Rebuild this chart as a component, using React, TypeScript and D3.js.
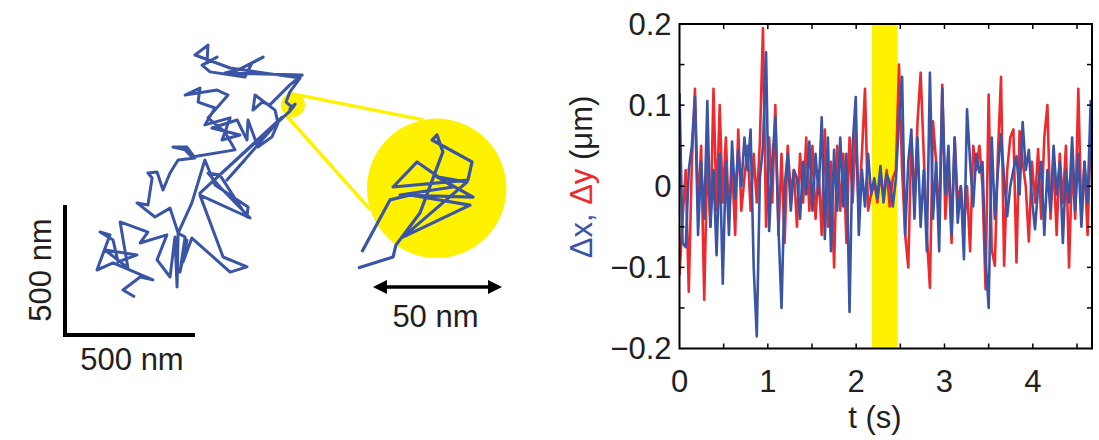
import React from "react";
import * as d3 from "d3";

// frame interval of the tracking, seconds
const DT = 0.035;

// displacement per frame, nm (blue = x, red = y)
const dxNm = [
  115, -70, -75, 20, 50, 110, -60, 30, -40, 105,
  -50, 20, -85, 40, -120, 30, -60, 55, -15, 45,
  0, 60, 20, 70, -100, -185, 10, 50, 165, -55,
  30, 85, -50, -150, 0, 40, -30, 20, 10, -40,
  30, -10, 55, -30, 40, -10, 85, -65, 60, -80,
  45, -30, 60, -25, 40, -155, 50, 110, -60, 20,
  -25, 40, -10, 10, -15, 25, -20, 15, 5, -25,
  10, 80, 135, -60, 30, 70, -40, 60, -50, 20,
  -80, 140, -40, 30, -80, 120, -10, 50, -60, 60,
  -45, 0, -90, 95, 30, -25, 40, 17, 30, -90,
  -150, 60, -40, 20, 64, 10, -37, 0, 20, 37,
  -10, 79, 20, 45, -16, -53, 0, 30, -60, 20,
  -30, 50, -10, 30, -70, 20, -20, 60, -30, 40,
  -50, 30, -20, 105, -110,
];
const dyNm = [
  -110, -40, 20, -130, 30, 120, -30, 50, -140, 40,
  -50, 120, -30, 100, -20, 60, -40, 30, -60, 70,
  -30, 10, 50, -30, 40, -20, 55, 195, -50, 60,
  -20, 100, -60, 40, -70, 50, -10, 20, -50, 40,
  -20, 60, -30, 50, -40, 20, -60, 70, -50, 30,
  -100, 50, -30, 40, -70, 60, -20, 70, -30, 40,
  120, -30, -10, 5, -20, 15, -15, 20, -25, 10,
  20, 150, 20, -60, -100, 60, -20, 80, 140, 40,
  -60, -125, 80, 30, -50, 125, -40, 30, -70, 60,
  -20, 0, -50, 0, -80, 50, 20, 50, 0, -127,
  113, -78, -98, 40, 135, -98, 20, 60, 70, -94,
  68, 30, 0, -68, 30, -20, 46, -40, 60, 100,
  -40, 30, -60, 40, -20, 50, -100, 30, -40, 120,
  -40, 30, -60, 70, -30,
];

// highlighted stretch (s)
const bandStart = 2.18;
const bandEnd = 2.47;

const xTicks = [0, 1, 2, 3, 4];
const yTicks = [-0.2, -0.1, 0, 0.1, 0.2];

// whole trajectory, nm
const trajX = [
  269, 223, 289, 338, 185, 123, 173, 135, 185, 204, 277, 154, 242, 212, 319, 289, 392, 354, 404, 423,
  431, 435, 462, 442, 469, 454, 488, 635, 700, 608, 519, 712, 596, 550, 596, 700, 704, 577, 538, 488,
  435, 404, 346, 277, 319, 335, 319, 354, 377, 404, 435, 500, 469, 415, 462, 488, 654, 615, 550, 627,
  585, 462, 519, 512, 577, 538, 635, 604, 673, 565, 662, 700, 704, 742, 796, 819, 808, 731, 723, 758,
  788, 865, 912, 615, 665, 762, 719, 692, 558, 527, 585, 546, 550, 500, 635, 904, 865, 850, 873, 885,
  865, 881, 862, 519, 835, 623, 692,
];
const trajY = [
  146, 173, 223, 212, 277, 250, 385, 396, 365, 281, 308, 327, 258, 435, 396, 354, 385, 289, 223, 377,
  185, 392, 377, 242, 365, 281, 373, 242, 262, 300, 538, 450, 569, 623, 615, 454, 492, 577, 673, 508,
  392, 488, 454, 508, 500, 604, 623, 627, 558, 623, 673, 681, 723, 723, 712, 685, 712, 781, 835, 923,
  942, 923, 950, 896, 873, 808, 835, 750, 769, 796, 827, 750, 827, 723, 762, 815, 865, 923, 865, 896,
  885, 962, 1000, 1008, 1019, 1069, 1046, 992, 1012, 1038, 1069, 1046, 1115, 1077, 1027, 988, 935, 896, 877, 888,
  869, 881, 858, 546, 838, 596, 673,
];

// magnified stretch, nm from the centre of the zoom circle
const zoomX = [
  -30.5, -16.9, -15.8, -6.5, 2.4, 0.1, -1.8, 13.7, 12.1, -16.9, -7.6, 6.3, -14.2, 14.1, 0.1, 11.7,
  -13.1, 12.9, -10.3, -18.1, -29.0,
];
const zoomY = [
  -30.9, -26.6, -22.0, -9.6, 14.1, 20.7, 18.7, 10.2, 3.2, 0.5, 10.2, 0.5, -2.6, -3.4, 4.4, 2.4,
  -18.9, -6.5, -2.6, -4.5, -24.7,
];

const W = 1099;
const H = 440;
const FONT = "'Liberation Sans', Arial, Helvetica, sans-serif";
const BLUE = "#3a55a5";
const RED = "#ee2a2e";
const YELLOW = "#fff200";
const INK = "#231f20";
const FS = 31;

export default function App() {
  // right panel
  const x = d3.scaleLinear().domain([0, 4.67]).range([679.5, 1092]);
  const y = d3.scaleLinear().domain([-0.2, 0.2]).range([348.5, 24]);
  const [x0, x1] = x.range();
  const [yb, yt] = y.range();

  const series = (vals: number[]) =>
    d3.line<number>()
      .x((_, i) => x(i * DT))
      .y((d) => y(d / 1000))(vals) || "";

  const minorX = d3.range(0.5, 4.67, 0.5);
  const minorY = d3.range(-0.15, 0.2, 0.05);
  const tl = 5;
  const fmtY = (d: number) => (Math.abs(d) < 1e-9 ? "0" : d3.format(".1f")(d));

  // left panel: trajectory at 0.26 px/nm
  const sx = d3.scaleLinear().domain([0, 500]).range([65, 195]);
  const sy = d3.scaleLinear().domain([0, 500]).range([335, 205]);
  const traj = d3.line<number>().x((d) => sx(d)).y((_, i) => sy(trajY[i]))(trajX) || "";

  // inset: 10x magnification
  const cx = 436.7;
  const cy = 188.3;
  const ix = d3.scaleLinear().domain([-27, 27]).range([cx - 69.7, cx + 69.7]);
  const iy = d3.scaleLinear().domain([-27, 27]).range([cy + 69.7, cy - 69.7]);
  const R = ix(27) - cx;
  const inset = d3.line<number>().x((d) => ix(d)).y((_, i) => iy(zoomY[i]))(zoomX) || "";

  // spot on the trajectory that is magnified
  const spot = { x: 293, y: 105, r: 12 };
  const onCircle = (c: { x: number; y: number; r: number }, deg: number) => [
    c.x + c.r * Math.cos((deg * Math.PI) / 180),
    c.y + c.r * Math.sin((deg * Math.PI) / 180),
  ];
  const big = { x: cx, y: cy, r: R };
  const connTop = [onCircle(spot, -104), onCircle(big, -101)];
  const connBot = [onCircle(spot, 133), onCircle(big, 162)];

  const arrowA = ix(-24.7);
  const arrowB = ix(25.3);
  const arrowY = 287;
  const ah = 14;

  return (
    <svg
      width={W}
      height={H}
      style={{ position: "absolute", left: 0, top: 0, background: "#fff" }}
      fontFamily={FONT}
    >
      {/* left: trajectory with magnified spot */}
      <line x1={connTop[0][0]} y1={connTop[0][1]} x2={connTop[1][0]} y2={connTop[1][1]} stroke={YELLOW} strokeWidth={3.5} />
      <line x1={connBot[0][0]} y1={connBot[0][1]} x2={connBot[1][0]} y2={connBot[1][1]} stroke={YELLOW} strokeWidth={3.5} />
      <circle cx={spot.x} cy={spot.y} r={spot.r} fill={YELLOW} />
      <circle cx={cx} cy={cy} r={R} fill={YELLOW} />
      <path d={traj} fill="none" stroke={BLUE} strokeWidth={3} strokeLinejoin="round" />
      <path d={inset} fill="none" stroke={BLUE} strokeWidth={3.2} strokeLinejoin="round" />

      {/* scale bars */}
      <path
        d={`M${sx(0)},${sy(500)}V${sy(0)}H${sx(500)}`}
        fill="none"
        stroke="#000"
        strokeWidth={4}
      />
      <text x={sx(250) + 2} y={370} fontSize={FS} fill={INK} textAnchor="middle">500 nm</text>
      <text transform={`translate(51,${sy(250)}) rotate(-90)`} fontSize={FS} fill={INK} textAnchor="middle">500 nm</text>

      <line x1={arrowA + ah - 2} x2={arrowB - ah + 2} y1={arrowY} y2={arrowY} stroke="#000" strokeWidth={3.5} />
      <path d={`M${arrowA},${arrowY}l${ah},-7v14z`} fill="#000" />
      <path d={`M${arrowB},${arrowY}l${-ah},-7v14z`} fill="#000" />
      <text x={(arrowA + arrowB) / 2 - 2} y={327} fontSize={FS} fill={INK} textAnchor="middle">50 nm</text>

      {/* right: displacements */}
      <defs>
        <clipPath id="plot">
          <rect x={x0} y={yt} width={x1 - x0} height={yb - yt} />
        </clipPath>
      </defs>
      <rect x={x(bandStart)} y={yt} width={x(bandEnd) - x(bandStart)} height={yb - yt} fill={YELLOW} />
      <g clipPath="url(#plot)">
        <path d={series(dyNm)} fill="none" stroke={RED} strokeWidth={2.6} strokeLinejoin="round" />
        <path d={series(dxNm)} fill="none" stroke={BLUE} strokeWidth={2.6} strokeLinejoin="round" />
      </g>

      <g stroke="#000" strokeWidth={1.5}>
        {minorX.map((t) => (
          <g key={"tx" + t}>
            <line x1={x(t)} x2={x(t)} y1={yb} y2={yb - tl} />
            <line x1={x(t)} x2={x(t)} y1={yt} y2={yt + tl} />
          </g>
        ))}
        {minorY.map((v) => (
          <g key={"ty" + v}>
            <line x1={x0} x2={x0 + tl} y1={y(v)} y2={y(v)} />
            <line x1={x1} x2={x1 - tl} y1={y(v)} y2={y(v)} />
          </g>
        ))}
      </g>
      <rect x={x0} y={yt} width={x1 - x0} height={yb - yt} fill="none" stroke="#000" strokeWidth={2} />

      {xTicks.map((t) => (
        <text key={"lx" + t} x={x(t)} y={yb + 43} fontSize={FS} fill={INK} textAnchor="middle">
          {t}
        </text>
      ))}
      {yTicks.map((v) => (
        <text key={"ly" + v} x={x0 - 8} y={y(v)} dy="0.35em" fontSize={FS} fill={INK} textAnchor="end">
          {fmtY(v)}
        </text>
      ))}
      <text x={875} y={428} fontSize={FS} fill={INK} textAnchor="middle">t (s)</text>
      <text transform="translate(592,177) rotate(-90)" fontSize={FS} textAnchor="middle" fill={INK}>
        <tspan fill={BLUE}>Δx, </tspan>
        <tspan fill={RED}>Δy</tspan>
        <tspan fill={INK}> (μm)</tspan>
      </text>
    </svg>
  );
}
